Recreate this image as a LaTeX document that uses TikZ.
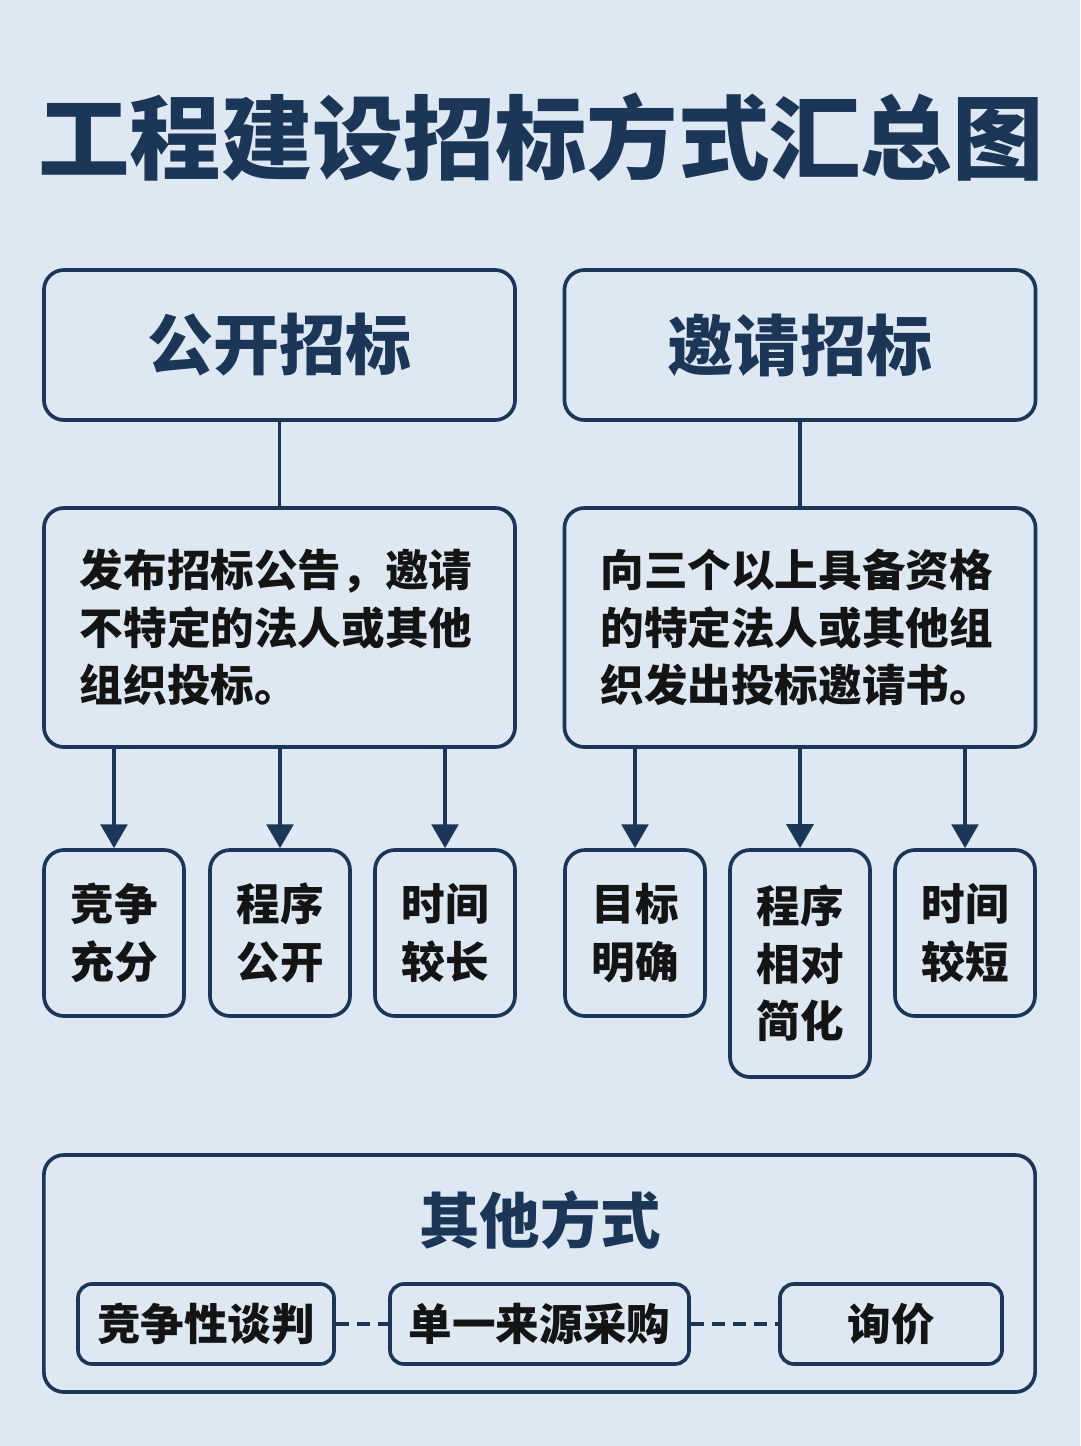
\documentclass[tikz,border=0pt]{standalone}
\usepackage{fontspec}
\setmainfont{Noto Sans CJK SC}
\usetikzlibrary{arrows.meta, positioning}
\definecolor{bgblue}{HTML}{DDE8F2}
\definecolor{navy}{HTML}{1B3657}
\definecolor{inkblack}{HTML}{141414}

\begin{document}
\begin{tikzpicture}[x=0.025cm, y=-0.025cm,
    box/.style={draw=navy, line width=2.6pt, rounded corners=0.5cm, fill=bgblue},
    headbox/.style={box, minimum width=11.775cm, minimum height=3.75cm,
        font=\fontsize{47}{56}\selectfont\bfseries, text=navy},
    descbox/.style={box, minimum width=11.775cm, minimum height=5.975cm,
        inner xsep=0.9cm, text width=9.975cm, align=left,
        font=\fontsize{31}{41}\selectfont\bfseries, text=inkblack},
    featbox/.style={box, minimum width=3.5cm, minimum height=4.15cm, align=center,
        font=\fontsize{31}{41}\selectfont\bfseries, text=inkblack},
    waybox/.style={box, rounded corners=0.35cm, minimum height=2cm,
        font=\fontsize{31}{41}\selectfont\bfseries, text=inkblack},
    link/.style={draw=navy, line width=2.6pt},
    arrow/.style={link, -{Triangle[width=19pt, length=17pt]}},
    dashlink/.style={draw=navy, line width=2.6pt, dash pattern=on 9pt off 6pt}
]
    % Background
    \useasboundingbox (0,0) rectangle (1080,1446);
    \fill[bgblue] (0,0) rectangle (1080,1446);

    % Title
    \node[text=navy, font=\fontsize{65}{74}\selectfont\bfseries] (title) at (541,137) {工程建设招标方式汇总图};

    % Two main ways
    \node[headbox] (gk) at (279.5,345) {公开招标};
    \node[headbox] (yq) at (800,345) {邀请招标};

    \node[descbox] (gkd) at (279.5,627.5) {发布招标公告，邀请\\不特定的法人或其他\\组织投标。};
    \node[descbox] (yqd) at (800,627.5) {向三个以上具备资格\\的特定法人或其他组\\织发出投标邀请书。};

    \draw[link] (gk) -- (gkd);
    \draw[link] (yq) -- (yqd);

    % Features
    \node[featbox] (gk1) at (114,933) {竞争\\充分};
    \node[featbox] (gk2) at (280,933) {程序\\公开};
    \node[featbox] (gk3) at (445,933) {时间\\较长};
    \node[featbox] (yq1) at (635,933) {目标\\明确};
    \node[featbox, minimum height=5.675cm] (yq2) at (800,963.5) {程序\\相对\\简化};
    \node[featbox] (yq3) at (965,933) {时间\\较短};

    \foreach \f in {gk1, gk2, gk3}
        \draw[arrow] (\f |- gkd.south) -- (\f.north);
    \foreach \f in {yq1, yq2, yq3}
        \draw[arrow] (\f |- yqd.south) -- (\f.north);

    % Other ways
    \node[box, minimum width=24.775cm, minimum height=5.925cm] (other) at (539.5,1273.5) {};
    \node[text=navy, font=\fontsize{43}{50}\selectfont\bfseries] (otherhd) at (540,1220) {其他方式};

    \node[waybox, minimum width=6.4cm] (o1) at (206,1324) {竞争性谈判};
    \node[waybox, minimum width=7.475cm] (o2) at (539.5,1324) {单一来源采购};
    \node[waybox, minimum width=5.55cm] (o3) at (891,1324) {询价};

    \draw[dashlink] (o1) -- (o2);
    \draw[dashlink] (o2) -- (o3);
\end{tikzpicture}
\end{document}
